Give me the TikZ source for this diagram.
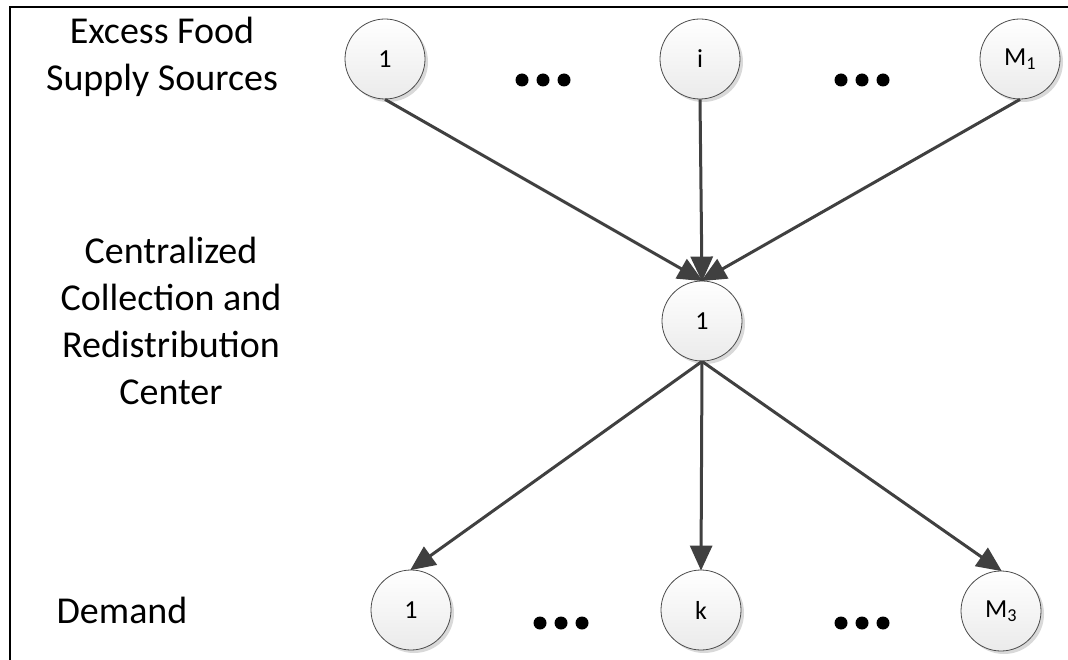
\documentclass[tikz,border=0pt]{standalone}
\usepackage{fontspec}
\setmainfont{Carlito}
\usetikzlibrary{arrows.meta,shadows}
\begin{document}
\begin{tikzpicture}[x=1pt,y=-1pt,
  nd/.style={circle,minimum size=80pt,inner sep=0pt,
    top color=white,bottom color=gray!16,draw=black!70,line width=0.8pt,
    drop shadow={shadow xshift=3pt,shadow yshift=-3pt,fill=black!25,opacity=0.6},
    font=\fontsize{26}{30}\selectfont},
  lab/.style={align=center,font=\fontsize{38}{47}\selectfont,inner sep=0pt},
  con/.style={draw=black!75,line width=3pt,-{Triangle[length=25pt,width=22pt]},shorten >=-1pt},
  dot/.style={fill=black}]
\useasboundingbox (0,0) rectangle (1068,660);
\draw[line width=2pt] (10,660) -- (10,7) -- (1068,7);
% labels
\node[lab] (lsrc) at (162,57) {Excess Food\\Supply Sources};
\node[lab] (lctr) at (171,321) {Centralized\\Collection and\\Redistribution\\Center};
\node[lab] (ldem) at (122,610) {Demand};
% nodes
\node[nd] (a1) at (385,59) {1};
\node[nd] (ai) at (700,59) {i};
\node[nd] (am) at (1020,59) {M\textsubscript{1}};
\node[nd] (c) at (702,321) {1};
\node[nd] (b1) at (411,610) {1};
\node[nd] (bk) at (701,610) {k};
\node[nd] (bm) at (1001,611) {M\textsubscript{3}};
% dots
\foreach \cx/\cy in {543/80,862/80,561/623,862/623}{
  \foreach \d in {-21,0,21}{\fill[dot] (\cx+\d,\cy) circle (6.5pt);}
}
% connectors
\draw[con] (a1.south) -- (c.north);
\draw[con] (ai.south) -- (c.north);
\draw[con] (am.south) -- (c.north);
\draw[con] (c.south) -- (b1.north);
\draw[con] (c.south) -- (bk.north);
\draw[con] (c.south) -- (bm.north);
\end{tikzpicture}
\end{document}
